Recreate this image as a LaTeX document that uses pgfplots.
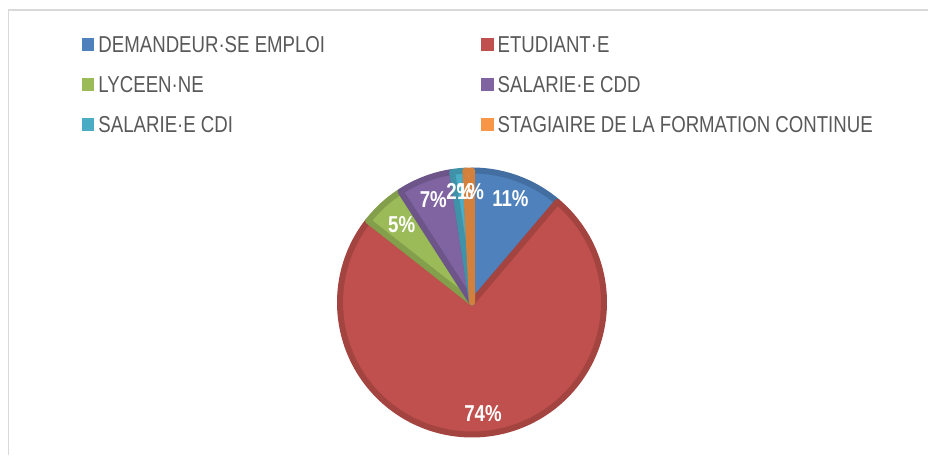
\documentclass[border=0pt]{standalone}
\usepackage{pgfplots}
\pgfplotsset{compat=1.18}
\usepackage{fontspec}
\setmainfont{Liberation Sans}[FakeStretch=0.81]
\definecolor{cBlue}{HTML}{4F81BD}
\definecolor{cRed}{HTML}{C0504D}
\definecolor{cGreen}{HTML}{9BBB59}
\definecolor{cPurple}{HTML}{8064A2}
\definecolor{cCyan}{HTML}{4BACC6}
\definecolor{cOrange}{HTML}{F79646}
\definecolor{legtext}{HTML}{595959}
\definecolor{framegray}{HTML}{D9D9D9}
% shares (percent)
\def\vA{11.2}% DEMANDEUR.SE EMPLOI
\def\vB{74.4}% ETUDIANT.E
\def\vC{5.3}%  LYCEEN.NE
\def\vD{6.7}%  SALARIE.E CDD
\def\vE{1.6}%  SALARIE.E CDI
\def\vF{0.8}%  STAGIAIRE
\pgfmathsetmacro\aA{90}
\pgfmathsetmacro\aB{\aA-3.6*\vA}
\pgfmathsetmacro\aC{\aB-3.6*\vB}
\pgfmathsetmacro\aD{\aC-3.6*\vC}
\pgfmathsetmacro\aE{\aD-3.6*\vD}
\pgfmathsetmacro\aF{\aE-3.6*\vE}
\pgfmathsetmacro\aG{\aF-3.6*\vF}
\begin{document}
\begin{tikzpicture}
\useasboundingbox (0,0) rectangle (928pt,455pt);
\fill[white] (0,0) rectangle (928pt,455pt);
\draw[framegray, line width=1.5pt] (8.3pt,0pt) -- (8.3pt,445pt) -- (928pt,445pt);
\begin{axis}[
  at={(472pt,152.5pt)}, anchor=origin,
  x=132pt, y=132pt, xmin=-1, xmax=1, ymin=-1, ymax=1,
  hide axis, clip=false,
  legend columns=2,
  legend cell align=left,
  legend style={draw=none, fill=none, inner sep=0pt, outer sep=0pt,
    at={(axis description cs:-0.9773,1.5095)}, anchor=north west,
    font=\fontsize{23}{26}\selectfont, text=legtext,
    row sep=18pt, column sep=0pt,
    nodes={inner sep=0pt, text height=17pt, text depth=5pt},
    /tikz/every odd column/.append style={column sep=4pt},
    /tikz/every even column/.append style={column sep=156pt}},
  legend image code/.code={\fill[#1,draw=none] (0pt,-4pt) rectangle (12.5pt,8.5pt);},
  slice/.style={fill=#1, draw=#1!85!black, line width=6pt, line join=round},
]
\addplot[slice=cBlue, domain=\aB:\aA, samples=40] ({cos(x)},{sin(x)}) -- (0,0) -- cycle;
\addlegendentry{DEMANDEUR·SE EMPLOI}
\addplot[slice=cRed, domain=\aC:\aB, samples=160] ({cos(x)},{sin(x)}) -- (0,0) -- cycle;
\addlegendentry{ETUDIANT·E}
\addplot[slice=cGreen, domain=\aD:\aC, samples=20] ({cos(x)},{sin(x)}) -- (0,0) -- cycle;
\addlegendentry{LYCEEN·NE}
\addplot[slice=cPurple, domain=\aE:\aD, samples=20] ({cos(x)},{sin(x)}) -- (0,0) -- cycle;
\addlegendentry{SALARIE·E CDD}
\addplot[slice=cCyan, domain=\aF:\aE, samples=10] ({cos(x)},{sin(x)}) -- (0,0) -- cycle;
\addlegendentry{SALARIE·E CDI}
\addplot[slice=cOrange, domain=\aG:\aF, samples=10] ({cos(x)},{sin(x)}) -- (0,0) -- cycle;
\addlegendentry{STAGIAIRE DE LA FORMATION CONTINUE}
\addplot[forget plot, only marks, mark=none, nodes near coords={\pgfplotspointmeta\%},
  point meta=explicit symbolic, nodes near coords align=center,
  every node near coord/.append style={font=\bfseries\fontsize{23}{26}\selectfont, text=white, inner sep=0pt}]
  table[meta=lab] {
x y lab
0.291 0.784 11
0.083 -0.838 74
-0.533 0.593 5
-0.293 0.783 7
-0.093 0.843 2
-0.011 0.843 1
};
\end{axis}
\end{tikzpicture}
\end{document}
